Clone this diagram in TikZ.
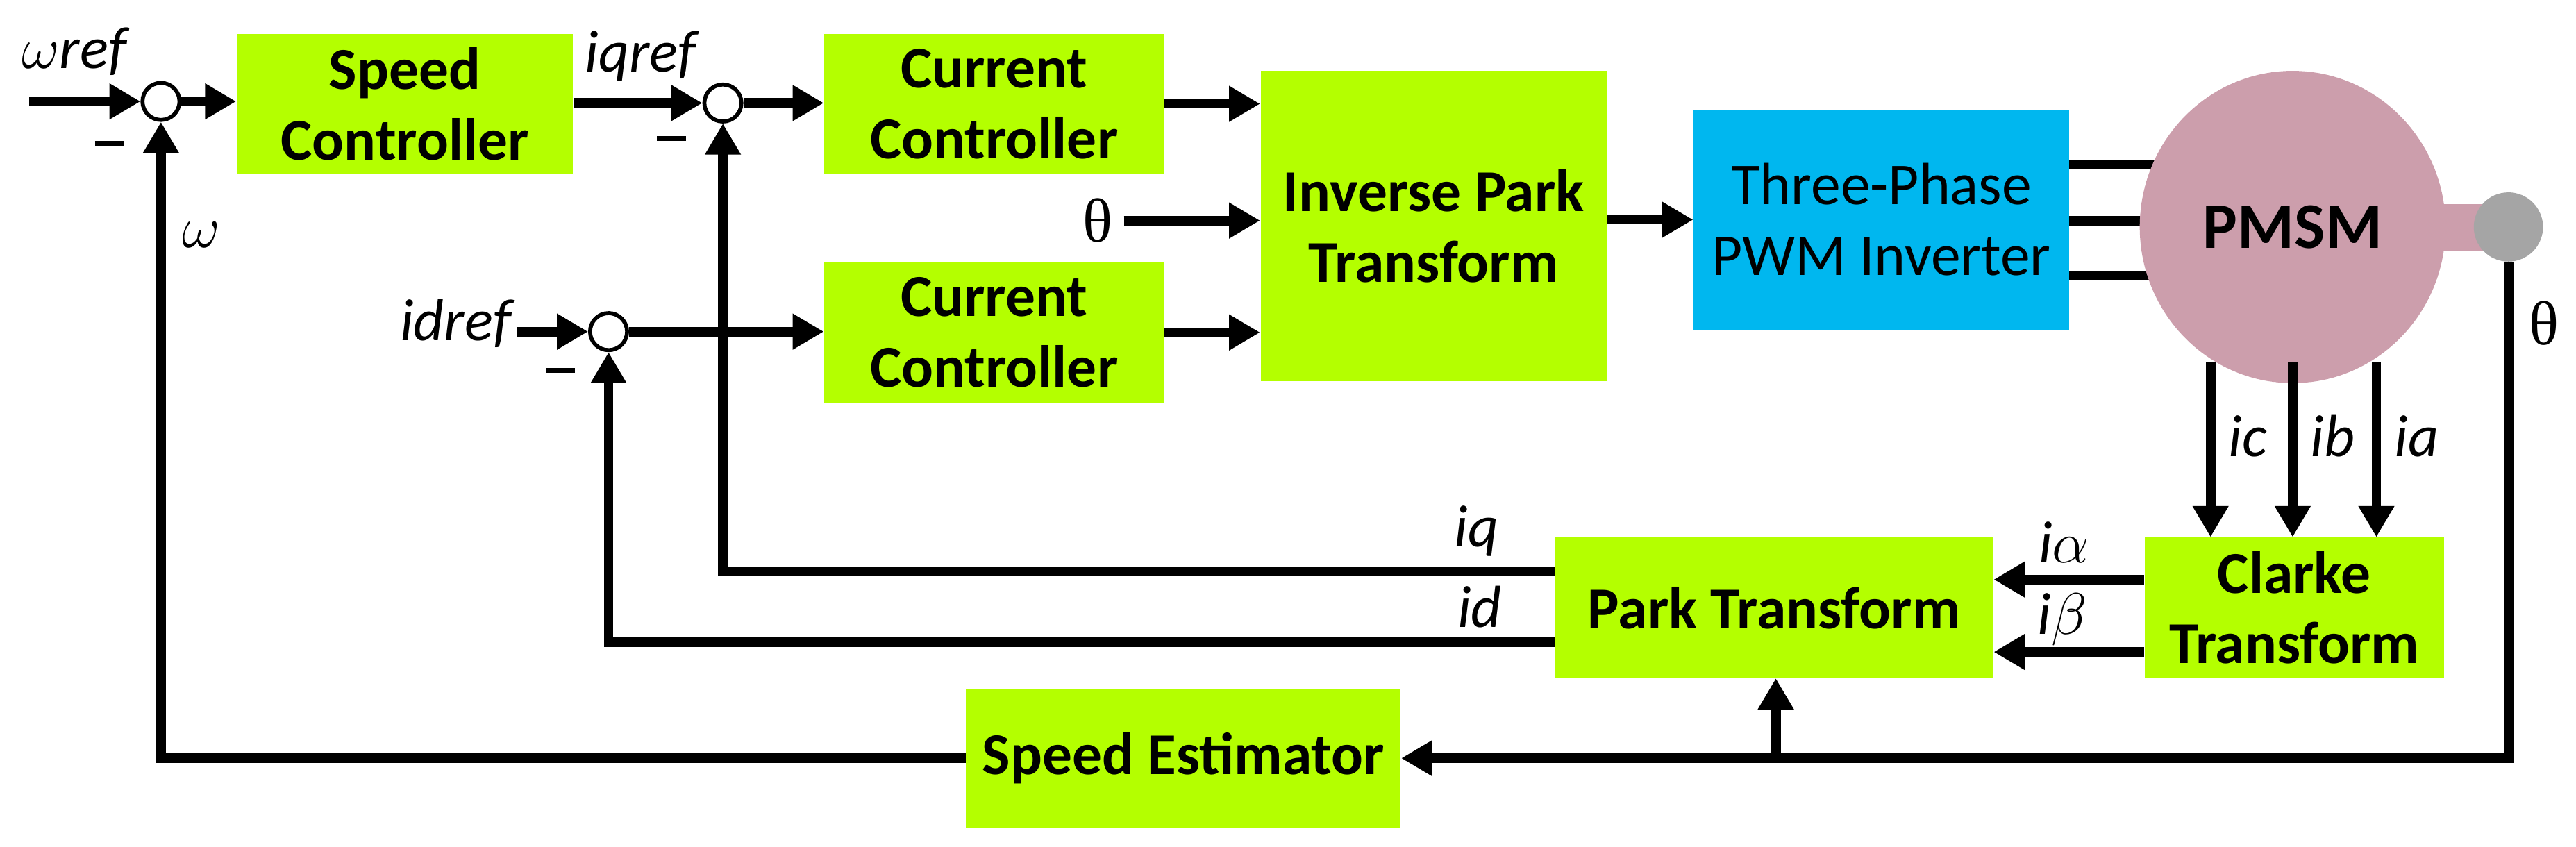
\documentclass[tikz,border=0pt]{standalone}
\usepackage{fontspec}
\setmainfont{Carlito}
\newfontfamily\lblfont{Liberation Serif}
\usetikzlibrary{arrows.meta,shapes.geometric,backgrounds,calc}
\definecolor{lime}{RGB}{180,255,0}
\definecolor{invblue}{RGB}{0,183,239}
\definecolor{motor}{RGB}{204,158,172}
\definecolor{shaftgrey}{RGB}{165,165,165}
\tikzset{
  blk/.style={fill=lime,draw=none,align=center,font=\fontsize{21}{25}\selectfont\bfseries},
  sumj/.style={circle,draw,fill=white,line width=1.4pt,minimum size=0.46cm,inner sep=0pt},
  arr/.style={line width=3.4pt,-{Triangle[length=11pt,width=12pt]}},
  ln/.style={line width=3.4pt},
  lbl/.style={font=\fontsize{21}{25}\selectfont\itshape},
  minus/.style={inner sep=0pt,font=\fontsize{21}{25}\selectfont},
}
\newcommand{\mns}{\rule{0.36cm}{1.6pt}}
\begin{document}
\begin{tikzpicture}[x=0.02cm,y=-0.02cm]
\useasboundingbox (0,0) rectangle (1600,526);
% blocks
\node[blk,minimum width=4.18cm,minimum height=1.74cm] (sc) at (251.5,64.5) {Speed\\Controller};
\node[blk,minimum width=4.22cm,minimum height=1.74cm] (cq) at (617.5,64.5) {Current\\Controller};
\node[blk,minimum width=4.22cm,minimum height=1.74cm] (cd) at (617.5,206.5) {Current\\Controller};
\node[blk,minimum width=4.3cm,minimum height=3.86cm] (ipk) at (890.5,140.5) {Inverse Park\\Transform};
\node[blk,fill=invblue,font=\fontsize{21}{25}\selectfont,minimum width=4.66cm,minimum height=2.74cm] (inv) at (1168.5,136.5) {Three-Phase\\PWM Inverter};
\node[blk,minimum width=5.44cm,minimum height=1.74cm] (pk) at (1102,377.5) {Park Transform};
\node[blk,minimum width=3.72cm,minimum height=1.74cm] (clk) at (1425,377.5) {Clarke\\Transform};
\node[blk,minimum width=5.4cm,minimum height=1.72cm] (se) at (735,471) {Speed Estimator};
% motor
\fill[motor] (1500,127) rectangle (1545,156);
\node[ellipse,fill=motor,minimum width=3.8cm,minimum height=3.88cm,font=\fontsize{23}{27}\selectfont\bfseries] (pm) at (1424,141) {PMSM};
\node[circle,fill=shaftgrey,minimum size=0.86cm,inner sep=0pt] (enc) at (1558,141) {};
% summing junctions
\node[sumj] (j1) at (100,63) {};
\node[sumj] (j2) at (449,64) {};
\node[sumj] (j3) at (378,206) {};
\node[minus] at (68,89) {\mns};
\node[minus] at (417,86) {\mns};
\node[minus] at (348,230) {\mns};
% inputs
\coordinate (wref) at (18,63);
\coordinate (dref) at (321,206);
\coordinate (th) at (698,137);
\node[lbl] at (46,32) {$\omega$ref};
\node[lbl] at (398,35) {iqref};
\node[lbl] at (283,201) {idref};
\node[font=\fontsize{22}{26}\selectfont\lblfont] at (682,137) {θ};
\draw[arr] (wref) -- (j1);
\draw[arr] (j1) -- (sc.west |- j1);
\draw[arr] (sc.east |- j2) -- (j2);
\draw[arr] (j2) -- (cq.west |- j2);
\draw[arr] (dref) -- (j3);
\draw[arr] (j3) -- (cd.west |- j3);
\draw[arr] (cq.east) -- (ipk.west |- cq.east);
\draw[arr] (cd.east) -- (ipk.west |- cd.east);
\draw[arr] (th) -- (ipk.west |- th);
\draw[arr] (ipk.east |- inv.west) -- (inv.west);
% phase wires
\begin{pgfonlayer}{background}
\foreach \y in {102,137,171}{\draw[ln] (inv.east |- 0,\y) -- (1380,\y);}
\end{pgfonlayer}
% phase currents
\foreach \x/\n in {1373/c,1424/b,1476/a}{
  \coordinate (p\n) at (\x,225);
  \draw[arr] (p\n) -- (p\n |- clk.north);
  \node[lbl,anchor=west] at (\x+5,271) {i\n};
}
% Clarke to Park
\draw[arr] (clk.west |- 0,360) -- (pk.east |- 0,360);
\draw[arr] (clk.west |- 0,405) -- (pk.east |- 0,405);
\node[lbl] at (1282,337) {i$\alpha$};
\node[lbl] at (1281,385) {i$\beta$};
% feedback
\draw[arr] (pk.west |- 0,355) -| (j2);
\draw[arr] (pk.west |- 0,399) -| (j3);
\draw[arr] (se.west) -| (j1);
\node[lbl] at (917,330) {iq};
\node[lbl] at (919,377) {id};
\node[lbl] at (125,146) {$\omega$};
\coordinate (br) at (1103,471);
\draw[arr] (enc.south) |- (se.east);
\draw[arr] (br) -- (pk.south -| br);
\node[font=\fontsize{22}{26}\selectfont\lblfont] at (1580,201) {θ};
\end{tikzpicture}
\end{document}
